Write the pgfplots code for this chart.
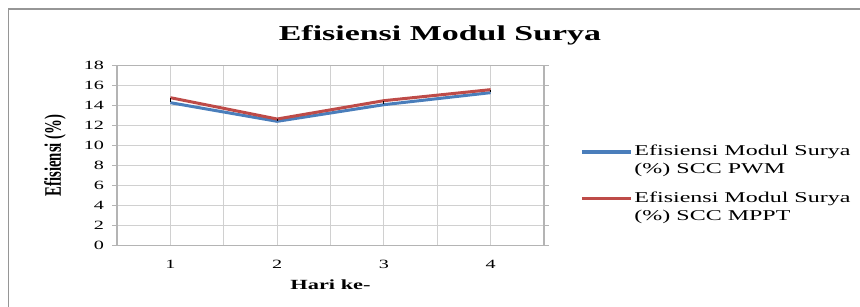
\documentclass[border=0pt]{standalone}
\usepackage{fontspec}
\setmainfont{Liberation Serif}[FakeStretch=1.6]
\newfontfamily\plainserif{Liberation Serif}
\usepackage{graphicx}
\usepackage{pgfplots}
\pgfplotsset{compat=1.18}
\definecolor{pwm}{RGB}{74,126,187}
\definecolor{mppt}{RGB}{190,75,72}
\definecolor{gridc}{RGB}{208,208,208}
\definecolor{axc}{RGB}{180,180,180}
\definecolor{borderc}{RGB}{150,150,150}
\begin{document}
\begin{tikzpicture}
\useasboundingbox (0,0) rectangle (430pt,153pt);
\draw[borderc, line width=0.7pt] (4.2pt,-20pt) -- (4.2pt,148.4pt) -- (460pt,148.4pt);
\node[font=\bfseries\fontsize{10.6}{12}\selectfont] at (220pt,135.5pt) {Efisiensi Modul Surya};
\begin{axis}[
  at={(58.5pt,30.15pt)}, anchor=south west,
  scale only axis, width=213.5pt, height=90.2pt,
  xmin=0.5, xmax=4.5, ymin=0, ymax=18,
  xtick={1,2,3,4}, minor xtick={0.5,1.5,2.5,3.5,4.5},
  xticklabels={1,2,3,4},
  ytick={0,2,4,6,8,10,12,14,16,18},
  yticklabels={0,2,4,6,8,10,12,14,16,18},
  xmajorgrids, xminorgrids, ymajorgrids,
  major grid style={draw=gridc, line width=0.6pt},
  minor grid style={draw=gridc, line width=0.6pt},
  axis line style={draw=axc, line width=0.7pt},
  tick align=outside,
  major tick length=2.5pt, minor tick length=0pt,
  xtick style={draw=none},
  ytick style={draw=axc, line width=0.6pt},
  ticklabel style={font=\fontsize{6.3}{7}\selectfont},
  yticklabel style={xshift=-0.5pt},
  xticklabel style={yshift=-1.2pt},
  xlabel={Hari ke-},
  xlabel style={font=\bfseries\fontsize{7}{8}\selectfont, at={(axis description cs:0.5,-0.218)}, anchor=center},
  ylabel={\scalebox{1}[1.6]{\plainserif\bfseries Efisiensi (\%)}},
  ylabel style={font=\fontsize{7.4}{8}\selectfont, at={(axis description cs:-0.145,0.5)}, anchor=center},
  legend style={at={(axis description cs:1.084,0.57)}, anchor=north west, draw=none, fill=none,
    inner sep=0pt, row sep=5.5pt,
    font=\fontsize{7.5}{9}\selectfont,
    nodes={align=left, inner sep=1pt}},
  legend cell align=left,
  legend image code/.code={\draw[#1, line width=1.6pt] (0pt,4.5pt) -- (24.5pt,4.5pt);},
]
\addplot[pwm, line width=1.5pt] coordinates {(1,14.27) (2,12.41) (3,14.07) (4,15.27)};
\addlegendentry{Efisiensi Modul Surya\\(\%) SCC PWM}
\addplot[mppt, line width=1.5pt] coordinates {(1,14.77) (2,12.64) (3,14.47) (4,15.57)};
\addlegendentry{Efisiensi Modul Surya\\(\%) SCC MPPT}
\addplot[draw=none, forget plot, error bars/.cd, y dir=plus, y explicit,
  error mark=none, error bar style={black, line width=0.5pt}]
  coordinates {(1,14.35) +- (0,0.4) (2,12.48) +- (0,0.12) (3,14.1) +- (0,0.35) (4,15.3) +- (0,0.25)};
\end{axis}
\end{tikzpicture}
\end{document}
